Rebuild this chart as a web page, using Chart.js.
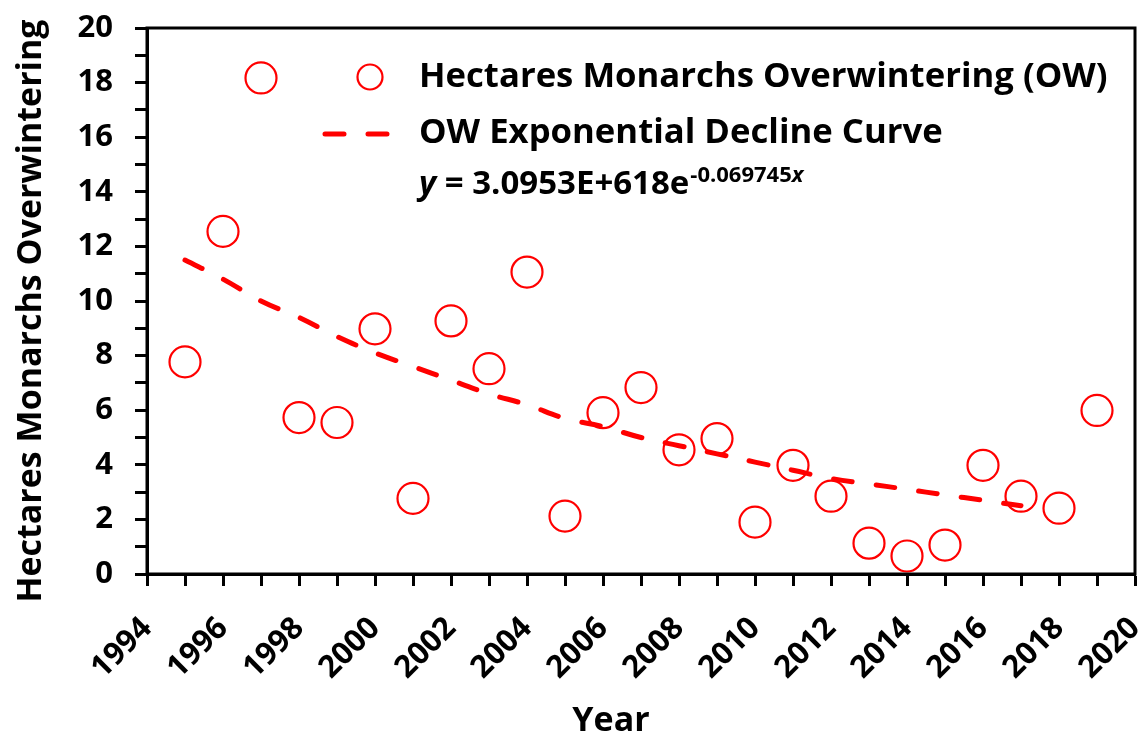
<!DOCTYPE html>
<html><head><meta charset="utf-8">
<script src="https://cdn.jsdelivr.net/npm/chart.js@4.4.1/dist/chart.umd.min.js"></script>
<style>html,body{margin:0;padding:0;background:#fff}#wrap{width:1144px;height:740px}</style>
</head><body><div id="wrap"><canvas id="c" width="1144" height="740"></canvas></div>
<script>
// ---- data ----
const years = [1995,1996,1997,1998,1999,2000,2001,2002,2003,2004,2005,2006,2007,2008,2009,2010,2011,2012,2013,2014,2015,2016,2017,2018,2019];
const hectares = [7.77,12.55,18.17,5.73,5.55,8.98,2.77,9.27,7.52,11.06,2.12,5.91,6.83,4.55,4.96,1.90,3.98,2.85,1.13,0.66,1.06,3.98,2.85,2.41,5.99];
const trendYears = [1995,1996,1997,1998,1999,2000,2001,2002,2003,2004,2005,2006,2007,2008,2009,2010,2011,2012,2013,2014,2015,2016,2017];
const trendValues = [11.5,10.8,10.0,9.4,8.7,8.1,7.6,7.1,6.6,6.2,5.7,5.4,5.0,4.7,4.4,4.1,3.8,3.5,3.3,3.1,2.9,2.7,2.5];
const xRange = [1994, 2020];
const yRange = [0, 20];
const seriesNames = ['Hectares Monarchs Overwintering (OW)', 'OW Exponential Decline Curve'];
const equationParts = ['y', ' = 3.0953E+618e', '-0.069745', 'x'];
const axisTitles = ['Year', 'Hectares Monarchs Overwintering'];

const RED = '#ff0000';
const FONT = '"Open Sans", "Liberation Sans", sans-serif';

function zeroPadding(s) {
  s.paddingLeft = s.paddingRight = s.paddingTop = s.paddingBottom = 0;
  s.getPadding = () => ({left: 0, top: 0, right: 0, bottom: 0});
}

const framePlugin = {
  id: 'frame',
  afterDraw(chart) {
    const {ctx, chartArea: a} = chart;
    ctx.save();
    ctx.strokeStyle = '#000';
    ctx.lineWidth = 3;
    ctx.strokeRect(a.left, a.top, a.right - a.left, a.bottom - a.top);
    // axis titles
    ctx.fillStyle = '#000';
    ctx.font = 'bold 34px ' + FONT;
    ctx.textAlign = 'center';
    ctx.textBaseline = 'middle';
    ctx.fillText(axisTitles[0], 611, 721);
    ctx.translate(31, 311);
    ctx.rotate(-Math.PI / 2);
    ctx.fillText(axisTitles[1], 0, 0);
    ctx.restore();
  }
};

const legendPlugin = {
  id: 'customLegend',
  afterDraw(chart) {
    const {ctx} = chart;
    ctx.save();
    const tx = 419;
    // entry 1: circle
    ctx.strokeStyle = RED; ctx.lineWidth = 2.2;
    ctx.beginPath(); ctx.arc(370, 77, 12.5, 0, Math.PI * 2); ctx.stroke();
    ctx.fillStyle = '#000';
    ctx.textBaseline = 'middle';
    ctx.font = 'bold 34.7px ' + FONT;
    ctx.fillText(seriesNames[0], tx, 77);
    // entry 2: dashed line
    ctx.strokeStyle = RED; ctx.lineWidth = 5; ctx.lineCap = 'round';
    ctx.setLineDash([19, 24]);
    ctx.beginPath(); ctx.moveTo(325, 134); ctx.lineTo(387, 134); ctx.stroke();
    ctx.setLineDash([]);
    ctx.fillText(seriesNames[1], tx, 133);
    // equation
    let x = tx;
    const yb = 185;
    ctx.font = 'italic bold 33px ' + FONT;
    ctx.fillText(equationParts[0], x, yb); x += ctx.measureText(equationParts[0]).width;
    ctx.font = 'bold 33px ' + FONT;
    ctx.fillText(equationParts[1], x, yb); x += ctx.measureText(equationParts[1]).width;
    ctx.font = 'bold 22px ' + FONT;
    ctx.fillText(equationParts[2], x + 1, yb - 9); x += ctx.measureText(equationParts[2]).width + 1;
    ctx.font = 'italic bold 22px ' + FONT;
    ctx.fillText(equationParts[3], x, yb - 9);
    ctx.restore();
  }
};

new Chart(document.getElementById('c'), {
  type: 'scatter',
  data: {
    datasets: [
      {
        label: seriesNames[1],
        type: 'line',
        data: trendYears.map((y, i) => ({x: y, y: trendValues[i]})),
        borderColor: RED,
        borderWidth: 5,
        borderDash: [19, 24],
        borderCapStyle: 'round',
        pointRadius: 0,
        fill: false,
        tension: 0.4,
        order: 0
      },
      {
        label: seriesNames[0],
        data: years.map((y, i) => ({x: y, y: hectares[i]})),
        pointStyle: 'circle',
        pointRadius: 15.5,
        pointHoverRadius: 15.5,
        borderWidth: 2.2,
        borderColor: RED,
        backgroundColor: 'rgba(0,0,0,0)',
        order: 1
      }
    ]
  },
  options: {
    responsive: false,
    animation: false,
    devicePixelRatio: 1,
    layout: {autoPadding: false, padding: {top: 28, right: 9, left: 0, bottom: 0}},
    plugins: {legend: {display: false}, tooltip: {enabled: false}},
    scales: {
      x: {
        type: 'linear',
        min: xRange[0], max: xRange[1],
        afterFit(s) { s.height = 166; zeroPadding(s); },
        ticks: {
          stepSize: 1, autoSkip: false,
          minRotation: 45, maxRotation: 45,
          color: '#000', padding: 24,
          font: {family: FONT, size: 31, weight: 'bold'},
          callback: v => (v % 2 === 0 ? String(v) : '')
        },
        grid: {drawOnChartArea: false, drawTicks: true, tickLength: 12, tickWidth: 3, tickColor: '#000'},
        border: {display: true, color: '#000', width: 3},
        title: {display: false, text: axisTitles[0]}
      },
      y: {
        min: yRange[0], max: yRange[1],
        afterFit(s) { s.width = 147; zeroPadding(s); },
        ticks: {
          stepSize: 1, autoSkip: false,
          color: '#000', padding: 22,
          font: {family: FONT, size: 31, weight: 'bold'},
          callback: v => (v % 2 === 0 ? String(v) : '')
        },
        grid: {drawOnChartArea: false, drawTicks: true, tickLength: 12, tickWidth: 3, tickColor: '#000'},
        border: {display: true, color: '#000', width: 3},
        title: {display: false, text: axisTitles[1]}
      }
    }
  },
  plugins: [framePlugin, legendPlugin]
});
</script>
</body></html>
